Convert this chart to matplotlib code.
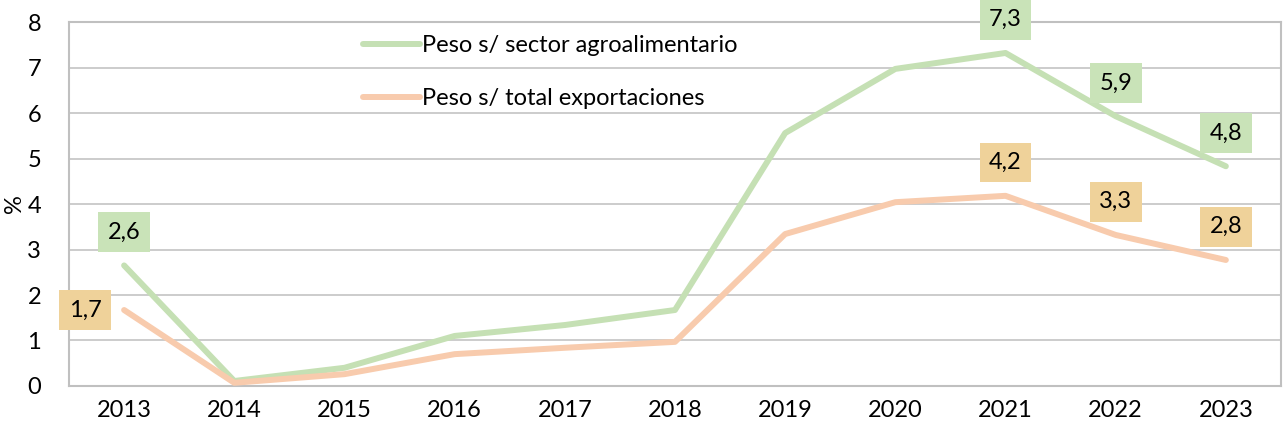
import matplotlib.pyplot as plt

years = ['2013', '2014', '2015', '2016', '2017', '2018', '2019', '2020', '2021', '2022', '2023']
agro = [2.65, 0.11, 0.40, 1.10, 1.34, 1.67, 5.56, 6.97, 7.32, 5.93, 4.83]
total = [1.67, 0.07, 0.26, 0.70, 0.84, 0.97, 3.34, 4.04, 4.18, 3.32, 2.77]

labelled = [0, 8, 9, 10]

plt.rcParams['font.family'] = ['Lato', 'DejaVu Sans']

fig = plt.figure(figsize=(12.83, 4.32), dpi=100)
ax = fig.add_axes([0.0538, 0.1065, 0.9446, 0.8425])

x = list(range(len(years)))
ax.plot(x, agro, color='#c5e0b4', lw=4.3, solid_capstyle='round', label='Peso s/ sector agroalimentario', zorder=3)
ax.plot(x, total, color='#f8cbad', lw=4.3, solid_capstyle='round', label='Peso s/ total exportaciones', zorder=3)

for i in labelled:
    ax.annotate(f'{agro[i]:.1f}'.replace('.', ','), (x[i], agro[i]), xytext=(0, 24),
                textcoords='offset points', ha='center', va='center', fontsize=17,
                bbox=dict(boxstyle='square,pad=0.4', fc='#c9e3b8', ec='none'), zorder=4)
    if i == 0:
        off = (-28, 0)
    else:
        off = (0, 24)
    ax.annotate(f'{total[i]:.1f}'.replace('.', ','), (x[i], total[i]), xytext=off,
                textcoords='offset points', ha='center', va='center', fontsize=17,
                bbox=dict(boxstyle='square,pad=0.4', fc='#efd29a', ec='none'), zorder=4)

ax.set_xlim(-0.5, len(years) - 0.5)
ax.set_ylim(0, 8)
ax.set_xticks(x)
ax.set_xticklabels(years)
ax.set_yticks(range(0, 9))
ax.tick_params(length=0, labelsize=17, pad=10)
ax.tick_params(axis='y', pad=20)
ax.grid(axis='y', color='#c8c8c8', lw=1.3)
ax.set_axisbelow(True)
for s in ax.spines.values():
    s.set_color('#c0c0c0')
    s.set_linewidth(1.5)
ax.set_ylabel('%', fontsize=17, labelpad=2)

ax.legend(loc='upper left', bbox_to_anchor=(0.235, 0.99), frameon=False, fontsize=17,
          handlelength=2.4, handletextpad=0.1, labelspacing=1.35, borderaxespad=0)

fig.savefig('out.png', dpi=100)
